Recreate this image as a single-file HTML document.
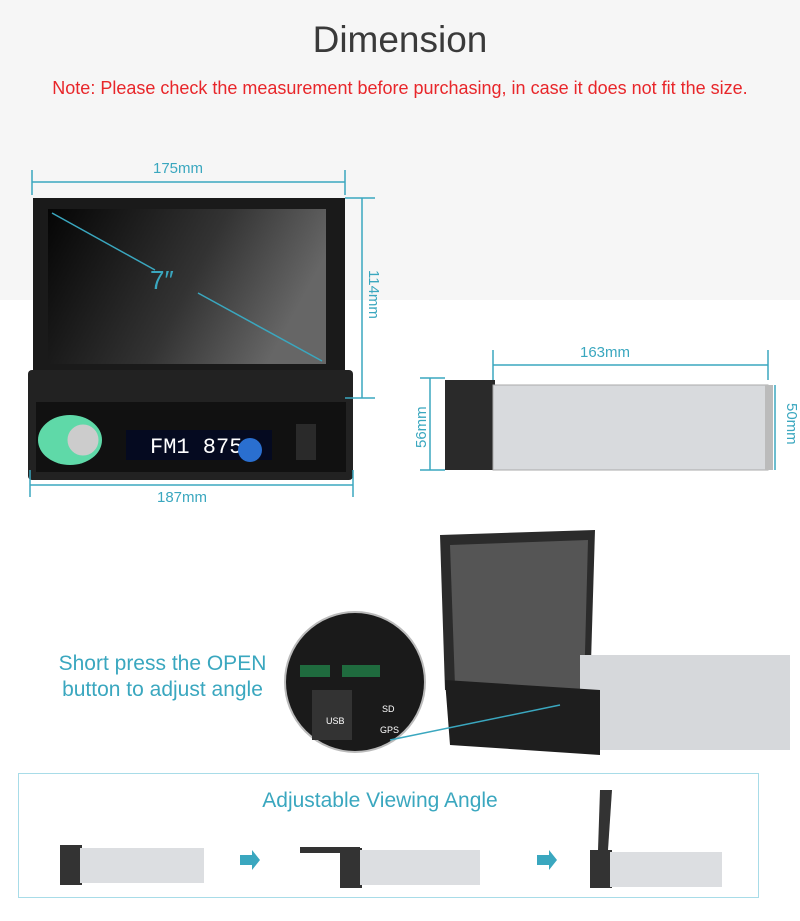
<!DOCTYPE html>
<html><head><meta charset="utf-8"><style>
body{margin:0;width:800px;height:921px;position:relative;background:#fff;font-family:"Liberation Sans",sans-serif;overflow:hidden}
.a{position:absolute}
.t{color:#3aa7bf}
</style></head><body>
<div class="a" style="left:0;top:0;width:800px;height:300px;background:#f6f6f6"></div>
<div class="a" style="left:0;top:19px;width:800px;text-align:center;font-size:37px;color:#3a3a3a">Dimension</div>
<div class="a" style="left:0;top:78px;width:800px;text-align:center;font-size:18px;color:#e8262a">Note: Please check the measurement before purchasing, in case it does not fit the size.</div>
<svg class="a" style="left:0;top:0" width="800" height="921">
<defs><linearGradient id="g" x1="0" x2="1" y1="0" y2="0.3"><stop offset="0" stop-color="#050505"/><stop offset="0.6" stop-color="#333"/><stop offset="1" stop-color="#666"/></linearGradient></defs>
<rect x="33" y="198" width="312" height="200" fill="#1a1a1a"/>
<rect x="48" y="209" width="278" height="155" fill="url(#g)"/>
<rect x="28" y="370" width="325" height="110" rx="4" fill="#222"/>
<rect x="36" y="402" width="310" height="70" fill="#111"/>
<ellipse cx="70" cy="440" rx="32" ry="25" fill="#5fd9a8"/>
<circle cx="83" cy="440" r="17" fill="#ccc" stroke="#5fd9a8" stroke-width="3"/>
<rect x="126" y="430" width="146" height="30" fill="#050a20"/>
<text x="150" y="453" fill="#fff" font-size="22" font-family="Liberation Mono">FM1 8750</text>
<circle cx="250" cy="450" r="12" fill="#2a6fd0"/>
<rect x="296" y="424" width="20" height="36" fill="#2a2a2a"/>
<g stroke="#3aa7bf" stroke-width="1.5" fill="none">
<line x1="32" y1="182" x2="345" y2="182"/><line x1="32" y1="170" x2="32" y2="195"/><line x1="345" y1="170" x2="345" y2="195"/>
<line x1="362" y1="198" x2="362" y2="398"/><line x1="345" y1="198" x2="375" y2="198"/><line x1="345" y1="398" x2="375" y2="398"/>
<line x1="30" y1="485" x2="353" y2="485"/><line x1="30" y1="470" x2="30" y2="497"/><line x1="353" y1="470" x2="353" y2="497"/>
<line x1="52" y1="213" x2="155" y2="270"/><line x1="198" y1="293" x2="322" y2="361"/>
<line x1="493" y1="365" x2="768" y2="365"/><line x1="493" y1="350" x2="493" y2="380"/><line x1="768" y1="350" x2="768" y2="380"/>
<line x1="430" y1="378" x2="430" y2="470"/><line x1="420" y1="378" x2="445" y2="378"/><line x1="420" y1="470" x2="445" y2="470"/>
<line x1="775" y1="385" x2="775" y2="470"/>
</g>
<rect x="445" y="380" width="50" height="90" fill="#2a2a2a"/>
<rect x="493" y="385" width="275" height="85" fill="#d8dadd" stroke="#aaa"/>
<rect x="765" y="385" width="8" height="85" fill="#bbb"/>
<polygon points="440,535 595,530 590,695 445,690" fill="#2b2b2b"/>
<polygon points="450,545 588,540 584,690 455,686" fill="#555"/>
<rect x="580" y="655" width="210" height="95" fill="#d6d8db"/>
<polygon points="445,680 600,690 600,755 450,745" fill="#1e1e1e"/>
<circle cx="355" cy="682" r="70" fill="#1a1a1a" stroke="#bbb" stroke-width="2"/>
<rect x="300" y="665" width="30" height="12" fill="#1f6b3e"/><rect x="342" y="665" width="38" height="12" fill="#1f6b3e"/>
<rect x="312" y="690" width="40" height="50" fill="#333"/>
<text x="326" y="724" fill="#fff" font-size="9">USB</text><text x="382" y="712" fill="#fff" font-size="9">SD</text><text x="380" y="733" fill="#fff" font-size="9">GPS</text>
<line x1="390" y1="740" x2="560" y2="705" stroke="#3aa7bf" stroke-width="1.5"/>
<rect x="18.5" y="773.5" width="740" height="124" fill="none" stroke="#a8dce8"/>
<rect x="60" y="845" width="22" height="40" fill="#333"/><rect x="80" y="848" width="124" height="35" fill="#dcdee1"/>
<polygon points="240,855 252,855 252,850 260,860 252,870 252,865 240,865" fill="#3aa7bf"/>
<rect x="300" y="847" width="60" height="6" fill="#333"/><rect x="340" y="848" width="22" height="40" fill="#333"/><rect x="360" y="850" width="120" height="35" fill="#dcdee1"/>
<polygon points="537,855 549,855 549,850 557,860 549,870 549,865 537,865" fill="#3aa7bf"/>
<polygon points="600,790 612,790 608,850 598,850" fill="#333"/><rect x="590" y="850" width="22" height="38" fill="#333"/><rect x="610" y="852" width="112" height="35" fill="#dcdee1"/>
</svg>
<div class="a t" style="left:150px;top:265px;font-size:26px">7″</div>
<div class="a t" style="left:153px;top:160px;font-size:15px">175mm</div>
<div class="a t" style="left:157px;top:489px;font-size:15px">187mm</div>
<div class="a t" style="font-size:15px;transform:rotate(90deg);transform-origin:0 0;left:382px;top:270px">114mm</div>
<div class="a t" style="left:580px;top:344px;font-size:15px">163mm</div>
<div class="a t" style="left:413px;top:448px;font-size:15px;transform:rotate(-90deg);transform-origin:0 0">56mm</div>
<div class="a t" style="left:800px;top:403px;font-size:15px;transform:rotate(90deg);transform-origin:0 0">50mm</div>
<div class="a t" style="left:40px;top:651px;width:245px;text-align:center;font-size:21px;line-height:26px">Short press the OPEN<br>button to adjust angle</div>
<div class="a t" style="left:18px;top:789px;width:724px;text-align:center;font-size:21px">Adjustable Viewing Angle</div>
</body></html>
